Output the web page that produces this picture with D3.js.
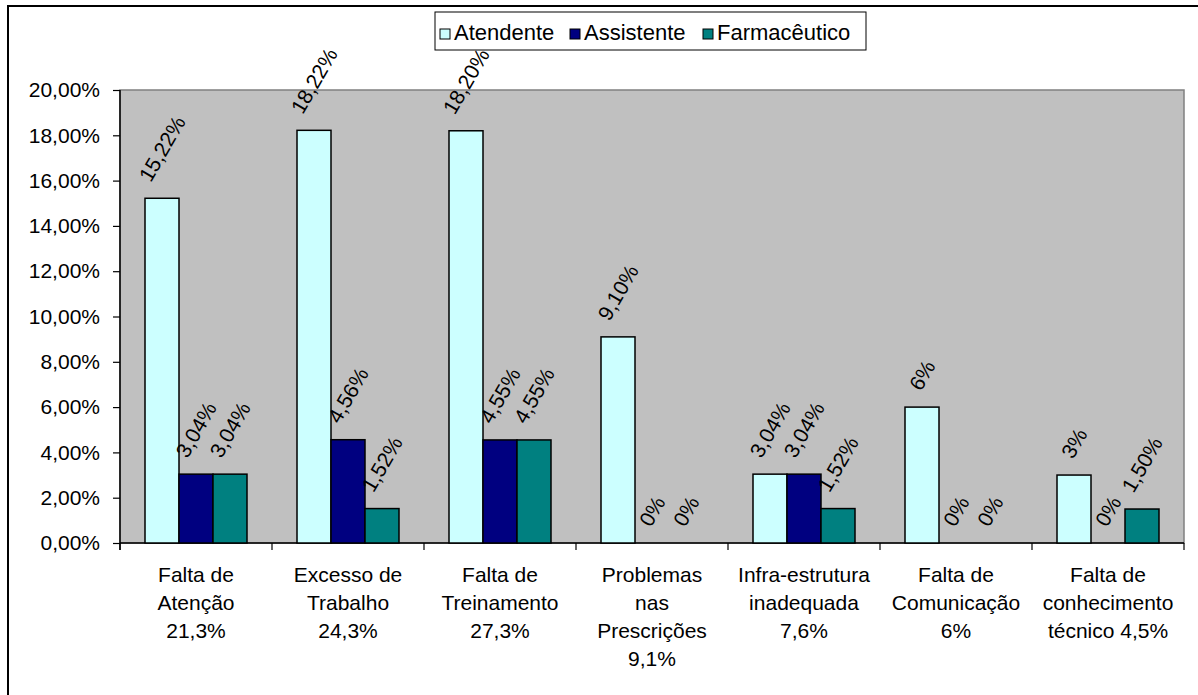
<!DOCTYPE html>
<html>
<head>
<meta charset="utf-8">
<script src="https://cdn.jsdelivr.net/npm/d3@7"></script>
<style>
  body { margin: 0; background: #fff; }
  text { font-family: "Liberation Sans", Arial, sans-serif; fill: #000; }
</style>
</head>
<body>
<div id="chart"></div>
<script>
// data
const categories = [
    ["Falta de", "Atenção", "21,3%"],
    ["Excesso de", "Trabalho", "24,3%"],
    ["Falta de", "Treinamento", "27,3%"],
    ["Problemas", "nas", "Prescrições", "9,1%"],
    ["Infra-estrutura", "inadequada", "7,6%"],
    ["Falta de", "Comunicação", "6%"],
    ["Falta de", "conhecimento", "técnico 4,5%"]
];
const seriesNames = ["Atendente", "Assistente", "Farmacêutico"];
const atendente = [15.22, 18.22, 18.20, 9.10, 3.04, 6, 3];
const assistente = [3.04, 4.56, 4.55, 0, 3.04, 0, 0];
const farmaceutico = [3.04, 1.52, 4.55, 0, 1.52, 0, 1.50];
const atendenteLabels = ["15,22%", "18,22%", "18,20%", "9,10%", "3,04%", "6%", "3%"];
const assistenteLabels = ["3,04%", "4,56%", "4,55%", "0%", "3,04%", "0%", "0%"];
const farmaceuticoLabels = ["3,04%", "1,52%", "4,55%", "0%", "1,52%", "0%", "1,50%"];
const yTicks = [0, 2, 4, 6, 8, 10, 12, 14, 16, 18, 20];

const colors = ["#CCFFFF", "#000080", "#008080"];

const width = 1198, height = 695;
const plot = {left: 120, right: 1184, top: 90, bottom: 543};

const svg = d3.select("#chart").append("svg")
    .attr("width", width)
    .attr("height", height);

// outer frame
svg.append("rect")
    .attr("x", 8).attr("y", 6)
    .attr("width", 1200).attr("height", 700)
    .attr("fill", "#fff")
    .attr("stroke", "#000")
    .attr("stroke-width", 2);

let x0 = d3.scaleBand()
    .domain(d3.range(categories.length))
    .range([plot.left, plot.right])
    .paddingInner(0).paddingOuter(0);

let barW = 34;
let x1 = d3.scaleBand()
    .domain(d3.range(seriesNames.length))
    .range([0, barW * 3]);

let y = d3.scaleLinear().domain([0, 20]).range([plot.bottom, plot.top]);

// plot area
svg.append("rect")
    .attr("x", plot.left).attr("y", plot.top)
    .attr("width", plot.right - plot.left)
    .attr("height", plot.bottom - plot.top)
    .attr("fill", "#C0C0C0")
    .attr("stroke", "#808080")
    .attr("stroke-width", 1.5);

// y axis
let yAxis = d3.axisLeft(y)
    .tickValues(yTicks)
    .tickSize(7)
    .tickPadding(13)
    .tickFormat(d => d3.format(".2f")(d).replace(".", ",") + "%");

let gy = svg.append("g")
    .attr("transform", "translate(" + plot.left + ",0)")
    .call(yAxis);
gy.select(".domain").attr("stroke", "#000").attr("stroke-width", 1.5)
    .attr("d", "M0," + plot.top + "V" + (plot.bottom + 7));
gy.selectAll(".tick line").attr("stroke", "#000").attr("stroke-width", 1.2);
gy.selectAll(".tick text").style("font-size", "21px")
    .style("font-family", "'Liberation Sans', Arial, sans-serif");

// x axis
let xTickPos = d3.range(categories.length + 1).map(i => plot.left + i * x0.bandwidth());
let gx = svg.append("g");
gx.append("line")
    .attr("x1", plot.left).attr("x2", plot.right)
    .attr("y1", plot.bottom).attr("y2", plot.bottom)
    .attr("stroke", "#000").attr("stroke-width", 1.5);
gx.selectAll(".xt").data(xTickPos).enter().append("line")
    .attr("class", "xt")
    .attr("x1", d => d).attr("x2", d => d)
    .attr("y1", plot.bottom).attr("y2", plot.bottom + 7)
    .attr("stroke", "#000").attr("stroke-width", 1.2);

// category labels
let catText = svg.selectAll(".cat").data(categories).enter().append("text")
    .attr("class", "cat")
    .attr("text-anchor", "middle")
    .style("font-size", "21px")
    .attr("transform", (d, i) => "translate(" + (x0(i) + x0.bandwidth() / 2) + ",582)");
catText.selectAll("tspan").data(d => d).enter().append("tspan")
    .attr("x", 0)
    .attr("y", (d, i) => i * 28)
    .text(d => d);

// bars
let series = [atendente, assistente, farmaceutico];
let labels = [atendenteLabels, assistenteLabels, farmaceuticoLabels];
let barData = [];
series.forEach((vals, s) => {
    vals.forEach((v, i) => {
        barData.push({s: s, i: i, v: v, label: labels[s][i]});
    });
});

let groupOffset = (x0.bandwidth() - barW * 3) / 2;

svg.selectAll(".bar").data(barData.filter(d => d.v > 0)).enter().append("rect")
    .attr("class", "bar")
    .attr("x", d => x0(d.i) + groupOffset + x1(d.s))
    .attr("y", d => y(d.v))
    .attr("width", x1.bandwidth())
    .attr("height", d => y(0) - y(d.v))
    .attr("fill", d => colors[d.s])
    .attr("stroke", "#000")
    .attr("stroke-width", 1.5);

// rotated value labels
let vl = svg.selectAll(".vl").data(barData).enter().append("text")
    .attr("class", "vl")
    .style("font-size", "21px")
    .text(d => d.label);
vl.each(function(d) {
    let len = this.getComputedTextLength();
    let cx = x0(d.i) + groupOffset + x1(d.s) + x1.bandwidth() / 2;
    let ax = cx - (len * 0.5 - 15 * 0.866) / 2;
    let ay = y(d.v) - 15;
    d3.select(this).attr("transform", "translate(" + ax + "," + ay + ") rotate(-60)");
});

// legend
let legend = svg.append("g").attr("transform", "translate(435,12)");
legend.append("rect")
    .attr("width", 431).attr("height", 38)
    .attr("fill", "#fff")
    .attr("stroke", "#000").attr("stroke-width", 1);
let legendX = [5, 135, 268];
let items = legend.selectAll(".li").data(seriesNames).enter().append("g")
    .attr("class", "li")
    .attr("transform", (d, i) => "translate(" + legendX[i] + ",0)");
items.append("rect")
    .attr("x", 0).attr("y", 17)
    .attr("width", 10).attr("height", 10)
    .attr("fill", (d, i) => colors[i])
    .attr("stroke", "#000").attr("stroke-width", 1);
items.append("text")
    .attr("x", 14).attr("y", 28)
    .style("font-size", "22px")
    .text(d => d);
</script>
</body>
</html>
